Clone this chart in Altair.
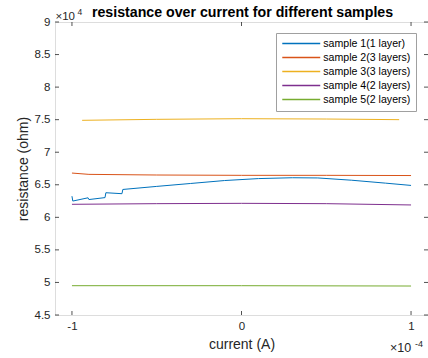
import altair as alt
import pandas as pd

# current in units of 1e-4 A, resistance in units of 1e4 ohm
s1_x = [-1.00, -0.995, -0.905, -0.90, -0.805, -0.80, -0.705, -0.70, -0.5, -0.3, -0.1, 0.1, 0.3, 0.45, 0.65, 0.85, 1.0]
s1_y = [6.325, 6.25, 6.30, 6.273, 6.303, 6.378, 6.363, 6.428, 6.475, 6.52, 6.565, 6.595, 6.608, 6.605, 6.57, 6.525, 6.49]
s2_x = [-1.0, -0.9, -0.5, 0.0, 0.5, 1.0]
s2_y = [6.68, 6.66, 6.65, 6.645, 6.645, 6.642]
s3_x = [-0.94, -0.5, 0.0, 0.5, 0.93]
s3_y = [7.49, 7.505, 7.515, 7.51, 7.50]
s4_x = [-1.0, -0.5, 0.0, 0.5, 1.0]
s4_y = [6.20, 6.21, 6.215, 6.21, 6.19]
s5_x = [-1.0, 0.0, 1.0]
s5_y = [4.95, 4.95, 4.945]

names = ["sample 1(1 layer)", "sample 2(3 layers)", "sample 3(3 layers)",
         "sample 4(2 layers)", "sample 5(2 layers)"]
colors = ["#0072BD", "#D95319", "#EDB120", "#7E2F8E", "#77AC30"]

x_ticks = [-1, 0, 1]
y_ticks = [4.5, 5, 5.5, 6, 6.5, 7, 7.5, 8, 8.5, 9]

rows = []
for name, xs, ys in zip(names, [s1_x, s2_x, s3_x, s4_x, s5_x], [s1_y, s2_y, s3_y, s4_y, s5_y]):
    for i, (a, b) in enumerate(zip(xs, ys)):
        rows.append({"sample": name, "current": a, "resistance": b, "order": i})
df = pd.DataFrame(rows)

AX = "#262626"
FONT = "Liberation Sans"
W, H = 373, 293

xscale = alt.Scale(domain=[-1.1, 1.1], nice=False, zero=False)
yscale = alt.Scale(domain=[4.5, 9], nice=False, zero=False)

x_axis = alt.Axis(values=x_ticks, title="current (A)", tickSize=0, domain=False,
                  grid=False, labelPadding=5, titlePadding=6, labelFontSize=11.5,
                  titleFontSize=14, labelColor=AX, titleColor=AX, titleFontWeight="normal",
                  labelFont=FONT, titleFont=FONT, labelExpr="datum.value + ''",
                  labelOverlap=False, labelFlush=False)
y_axis = alt.Axis(values=y_ticks, title="resistance (ohm)", tickSize=0, domain=False,
                  grid=False, labelPadding=5, titlePadding=4, labelFontSize=11.5,
                  titleFontSize=14, labelColor=AX, titleColor=AX, titleFontWeight="normal",
                  labelFont=FONT, titleFont=FONT, labelFlush=False, labelOverlap=False,
                  labelExpr="datum.value + ''")

lines = alt.Chart(df).mark_line(strokeWidth=1, clip=True).encode(
    x=alt.X("current:Q", scale=xscale, axis=x_axis, title="current (A)"),
    y=alt.Y("resistance:Q", scale=yscale, axis=y_axis, title="resistance (ohm)"),
    color=alt.Color("sample:N", scale=alt.Scale(domain=names, range=colors),
                    legend=alt.Legend(title=None, orient="none", legendX=221, legendY=11,
                                      symbolType="M-4,0H4", symbolSize=90, symbolStrokeWidth=1.3,
                                      symbolOpacity=1,
                                      labelFontSize=10.6, labelFont=FONT, labelColor="#000000",
                                      strokeColor="#a0a0a0", fillColor="white", padding=5,
                                      rowPadding=2, labelOffset=16.5, symbolOffset=14.75)),
    order="order:Q",
)

xt = pd.DataFrame({"t": x_ticks})
yt = pd.DataFrame({"t": y_ticks})
tick_style = dict(color=AX, strokeWidth=0.8)
xenc = alt.X("t:Q", scale=xscale, axis=x_axis, title="current (A)")
yenc = alt.Y("t:Q", scale=yscale, axis=y_axis, title="resistance (ohm)")
xb = alt.Chart(xt).mark_rule(**tick_style).encode(x=xenc, y=alt.value(H), y2=alt.value(H - 4))
xtop = alt.Chart(xt).mark_rule(**tick_style).encode(x=xenc, y=alt.value(0), y2=alt.value(4))
yl = alt.Chart(yt).mark_rule(**tick_style).encode(y=yenc, x=alt.value(0), x2=alt.value(4))
yr = alt.Chart(yt).mark_rule(**tick_style).encode(y=yenc, x=alt.value(W), x2=alt.value(W - 4))

def txt(s, x, y, size, align="left", weight="normal", color=AX):
    return alt.Chart(pd.DataFrame({"s": [s]})).mark_text(
        text=s, fontSize=size, font=FONT, color=color, align=align, baseline="alphabetic",
        fontWeight=weight
    ).encode(x=alt.value(x), y=alt.value(y))

title = txt("resistance over current for different samples", W / 2 + 1, -5.5, 14.2,
            align="center", weight="bold", color="#000000")
exp_top = txt("\u00d710", 0.5, -2, 11.5) + txt("4", 22.5, -7, 8.5)
exp_bot = txt("\u00d710", 335, 330, 12.5) + txt("-4", 360, 325, 9)

chart = alt.layer(lines, xb, xtop, yl, yr, title, exp_top, exp_bot).properties(
    width=W, height=H,
    autosize=alt.AutoSizeParams(type="none"),
    padding={"left": 55, "top": 22, "right": 0, "bottom": 43},
).configure_view(stroke=AX, strokeWidth=1).configure(background="white")

chart.save("out.html", embed_options={"renderer": "svg", "actions": False})
